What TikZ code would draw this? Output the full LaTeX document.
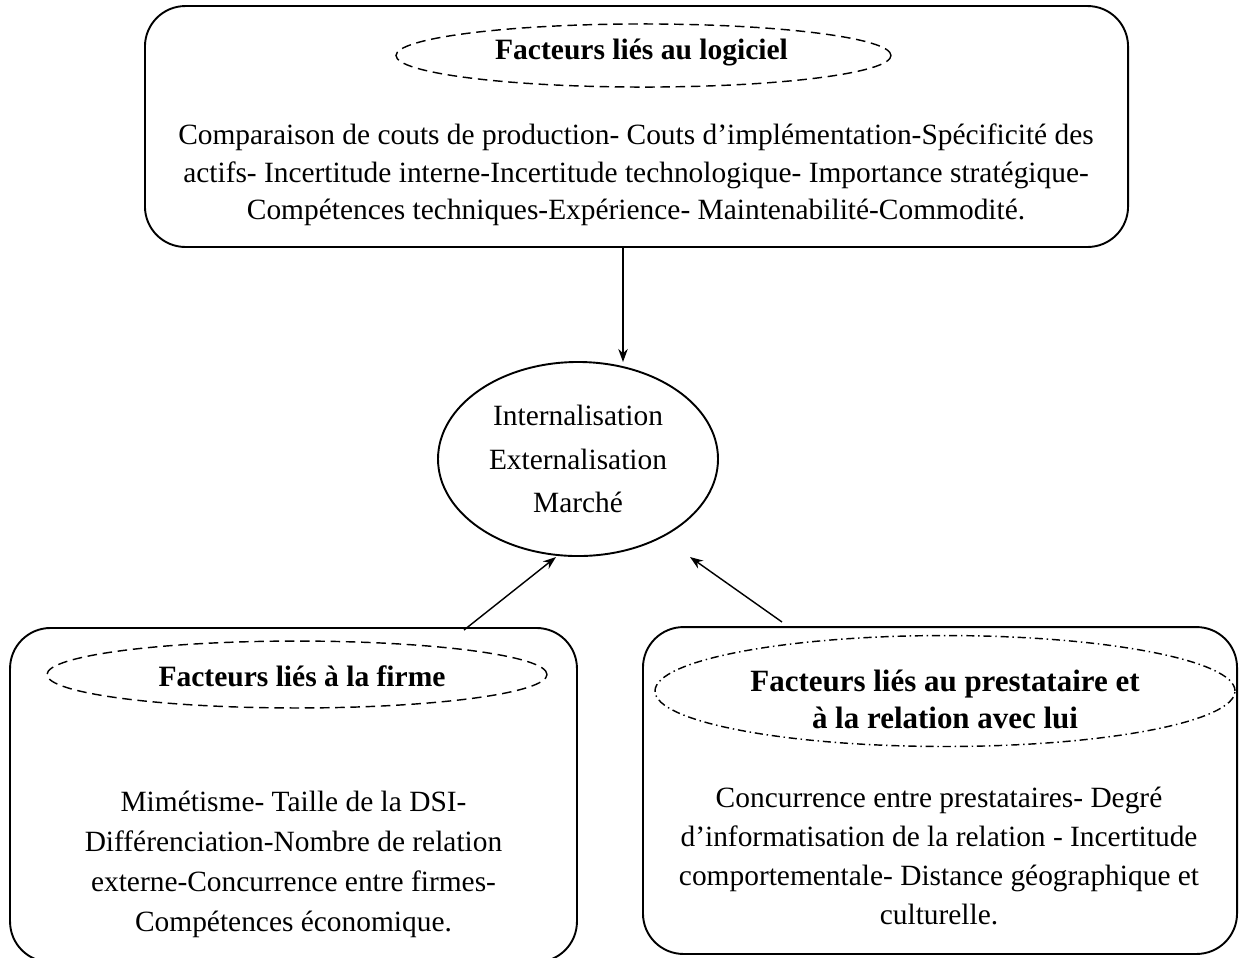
\documentclass[tikz,border=0pt]{standalone}
\usepackage{fontspec}
\setmainfont{Liberation Serif}
\usetikzlibrary{shapes.geometric,arrows.meta}
\begin{document}
\begin{tikzpicture}[x=0.42pt,y=-0.42pt,
  frame/.style={draw,line width=0.8pt,rounded corners=17pt,inner sep=0pt},
  oval/.style={draw,ellipse,line width=0.8pt,inner sep=0pt},
  tag/.style={draw,ellipse,line width=0.6pt,inner sep=0pt,dash pattern=on 4pt off 2.4pt},
  tagdd/.style={draw,ellipse,line width=0.6pt,inner sep=0pt,dash pattern=on 3.4pt off 1.6pt on 0.6pt off 1.6pt},
  body/.style={align=center,font=\fontsize{12.35}{16}\selectfont,inner sep=0pt},
  title/.style={align=center,font=\fontsize{12.4}{13}\selectfont\bfseries,inner sep=0pt},
  arr/.style={line width=0.6pt,-{Stealth[length=5.5pt,width=4pt]}}]
\useasboundingbox (0,0) rectangle (1239,957);

% software factors
\node[frame,minimum width=412.9pt,minimum height=101.2pt] (top) at (636.5,126.5) {};
\node[tag,minimum width=207.9pt,minimum height=26.5pt] (toptag) at (643.5,55.5) {};
\node[title] (toptitle) at (641.5,52) {Facteurs liés au logiciel};
\node[body,font=\fontsize{12.35}{15.75}\selectfont] (toptext) at (636,175) {Comparaison de couts de production- Couts d’implémentation-Spécificité des\\
actifs- Incertitude interne-Incertitude technologique- Importance stratégique-\\
Compétences techniques-Expérience- Maintenabilité-Commodité.};

% central decision
\node[oval,minimum width=117.6pt,minimum height=81.5pt] (mid) at (578,459) {};
\node[body,font=\fontsize{12.35}{18.1}\selectfont] (midtext) at (578,459) {Internalisation\\Externalisation\\Marché};

% firm factors
\node[frame,minimum width=238.1pt,minimum height=140.3pt] (left) at (293.5,795) {};
\node[tag,minimum width=210pt,minimum height=28.1pt] (lefttag) at (297,674.5) {};
\node[title] (lefttitle) at (302,676) {Facteurs liés à la firme};
\node[body,font=\fontsize{12.35}{16.8}\selectfont] (lefttext) at (293.5,864) {Mimétisme- Taille de la DSI-\\
Différenciation-Nombre de relation\\
externe-Concurrence entre firmes-\\
Compétences économique.};

% provider factors
\node[frame,minimum width=249.5pt,minimum height=137.3pt] (right) at (940,790.5) {};
\node[tagdd,minimum width=243.6pt,minimum height=46.6pt] (righttag) at (945,691) {};
\node[title,font=\fontsize{13}{15.5}\selectfont\bfseries] (righttitle) at (945,699) {Facteurs liés au prestataire et\\à la relation avec lui};
\node[body,font=\fontsize{12.35}{16.4}\selectfont] (righttext) at (939,856) {Concurrence entre prestataires- Degré\\
d’informatisation de la relation - Incertitude\\
comportementale- Distance géographique et\\
culturelle.};

% connectors
\coordinate (a1) at (623,248);
\coordinate (a2) at (623,362);
\coordinate (b1) at (464,630);
\coordinate (b2) at (556,557);
\coordinate (c1) at (782,622);
\coordinate (c2) at (690,557);
\draw[arr] (a1) -- (a2);
\draw[arr] (b1) -- (b2);
\draw[arr] (c1) -- (c2);
\end{tikzpicture}
\end{document}
